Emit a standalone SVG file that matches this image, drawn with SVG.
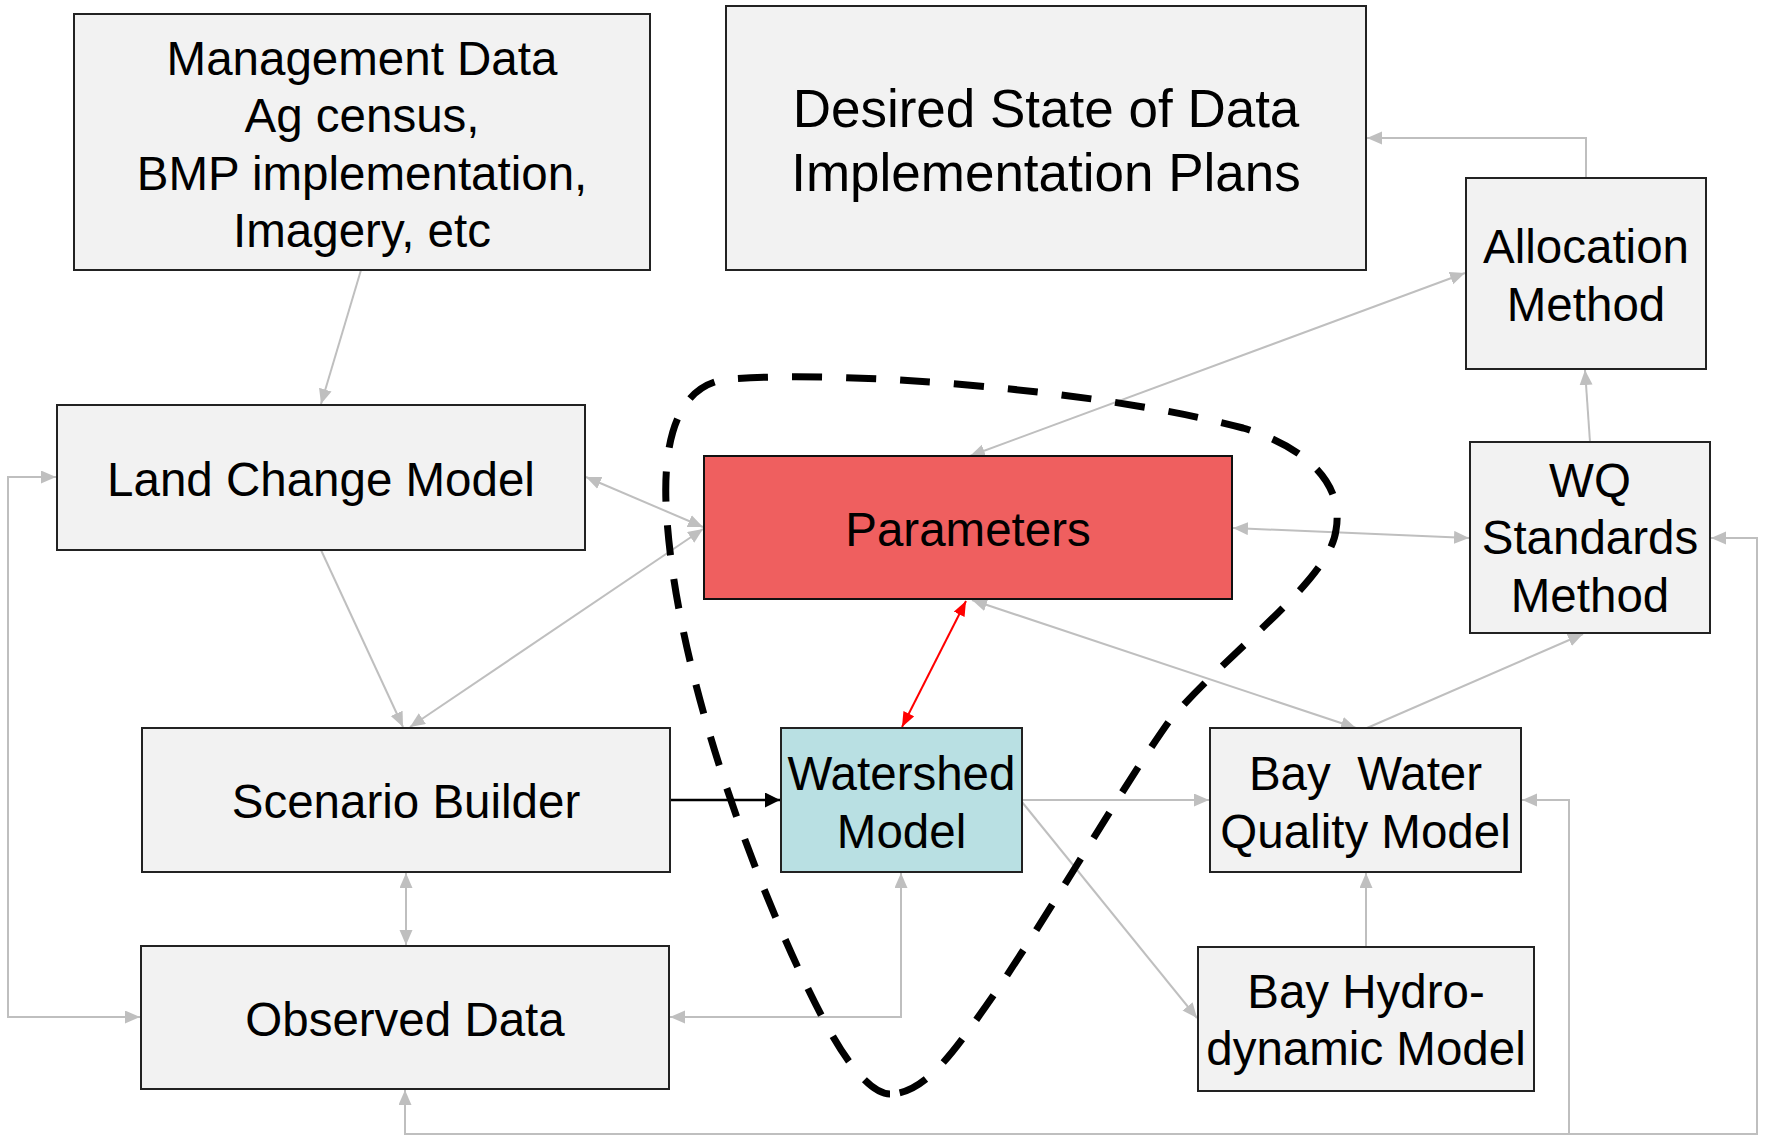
<svg xmlns="http://www.w3.org/2000/svg" width="1765" height="1137" viewBox="0 0 1765 1137">
<style>
.box{fill:#f2f2f2;stroke:#222;stroke-width:2}
.lbl{font-family:"Liberation Sans",Arial,sans-serif;font-size:47.5px;fill:#000;text-anchor:middle}
.big{font-size:53px}
.g{fill:none;stroke:#bfbfbf;stroke-width:2}
.k{fill:none;stroke:#000;stroke-width:2.5}
.r{fill:none;stroke:#ff0000;stroke-width:2}
</style>
<defs>
<marker id="ag" markerUnits="userSpaceOnUse" markerWidth="16" markerHeight="14" refX="15" refY="6.5" orient="auto-start-reverse"><path d="M0,0 L15,6.5 L0,13 z" fill="#bfbfbf"/></marker>
<marker id="ak" markerUnits="userSpaceOnUse" markerWidth="16" markerHeight="16" refX="15" refY="7.5" orient="auto-start-reverse"><path d="M0,0 L15,7.5 L0,15 z" fill="#000"/></marker>
<marker id="ar" markerUnits="userSpaceOnUse" markerWidth="16" markerHeight="14" refX="15" refY="6" orient="auto-start-reverse"><path d="M0,0 L15,6 L0,12 z" fill="#ff0000"/></marker>
</defs>
<rect width="1765" height="1137" fill="#fff"/>

<g id="connectors">
<line class="g" x1="361" y1="270" x2="321" y2="404" marker-end="url(#ag)"/>
<line class="g" x1="586" y1="477" x2="703" y2="527" marker-start="url(#ag)" marker-end="url(#ag)"/>
<line class="g" x1="410" y1="727" x2="703" y2="529" marker-start="url(#ag)" marker-end="url(#ag)"/>
<line class="g" x1="321" y1="550" x2="403" y2="727" marker-end="url(#ag)"/>
<line class="g" x1="970" y1="456" x2="1465" y2="273" marker-start="url(#ag)" marker-end="url(#ag)"/>
<path class="g" d="M1586,178 V138 H1367" marker-end="url(#ag)"/>
<line class="g" x1="1590" y1="442" x2="1585" y2="370" marker-end="url(#ag)"/>
<line class="g" x1="1233" y1="528" x2="1469" y2="538" marker-start="url(#ag)" marker-end="url(#ag)"/>
<line class="g" x1="972" y1="600" x2="1356" y2="728" marker-start="url(#ag)" marker-end="url(#ag)"/>
<line class="g" x1="1367" y1="728" x2="1583" y2="634" marker-end="url(#ag)"/>
<line class="g" x1="406" y1="873" x2="406" y2="945" marker-start="url(#ag)" marker-end="url(#ag)"/>
<line class="g" x1="1022" y1="800" x2="1209" y2="800" marker-end="url(#ag)"/>
<line class="g" x1="1022" y1="802" x2="1197" y2="1018" marker-end="url(#ag)"/>
<line class="g" x1="1366" y1="947" x2="1366" y2="873" marker-end="url(#ag)"/>
<path class="g" d="M901,873 V1017 H670" marker-start="url(#ag)" marker-end="url(#ag)"/>
<path class="g" d="M56,477 H8 V1017 H140" marker-start="url(#ag)" marker-end="url(#ag)"/>
<path class="g" d="M405,1090 V1134 H1757 V538 H1711" marker-start="url(#ag)" marker-end="url(#ag)"/>
<path class="g" d="M1569,1134 V800 H1522" marker-end="url(#ag)"/>
<line class="k" x1="671" y1="800" x2="780" y2="800" marker-end="url(#ak)"/>
<line class="r" x1="966" y1="601" x2="902" y2="727" marker-start="url(#ar)" marker-end="url(#ar)"/>
</g>

<g id="node-management">
<rect class="box" x="74" y="14" width="576" height="256"/>
<text class="lbl" x="362" y="74.5">Management Data</text>
<text class="lbl" x="362" y="132">Ag census,</text>
<text class="lbl" x="362" y="189.5">BMP implementation,</text>
<text class="lbl" x="362" y="247">Imagery, etc</text>
</g>
<g id="node-desired">
<rect class="box" x="726" y="6" width="640" height="264"/>
<text class="lbl big" x="1046" y="126.5">Desired State of Data</text>
<text class="lbl big" x="1046" y="191">Implementation Plans</text>
</g>
<g id="node-allocation">
<rect class="box" x="1466" y="178" width="240" height="191"/>
<text class="lbl" x="1586" y="263">Allocation</text>
<text class="lbl" x="1586" y="320.5">Method</text>
</g>
<g id="node-landchange">
<rect class="box" x="57" y="405" width="528" height="145"/>
<text class="lbl" x="321" y="495.5">Land Change Model</text>
</g>
<g id="node-parameters">
<rect x="704" y="456" width="528" height="143" fill="#ef5f5f" stroke="#111" stroke-width="2"/>
<text class="lbl" x="968" y="546">Parameters</text>
</g>
<g id="node-wqstandards">
<rect class="box" x="1470" y="442" width="240" height="191"/>
<text class="lbl" x="1590" y="496.5">WQ</text>
<text class="lbl" x="1590" y="554">Standards</text>
<text class="lbl" x="1590" y="611.5">Method</text>
</g>
<g id="node-scenario">
<rect class="box" x="142" y="728" width="528" height="144"/>
<text class="lbl" x="406" y="818">Scenario Builder</text>
</g>
<g id="node-watershed">
<rect x="781" y="728" width="241" height="144" fill="#b9e0e3" stroke="#222" stroke-width="2"/>
<text class="lbl" x="901.5" y="790">Watershed</text>
<text class="lbl" x="901.5" y="847.5">Model</text>
</g>
<g id="node-baywq">
<rect class="box" x="1210" y="728" width="311" height="144"/>
<text class="lbl" x="1365.5" y="790" xml:space="preserve">Bay  Water</text>
<text class="lbl" x="1365.5" y="847.5">Quality Model</text>
</g>
<g id="node-observed">
<rect class="box" x="141" y="946" width="528" height="143"/>
<text class="lbl" x="405" y="1035.5">Observed Data</text>
</g>
<g id="node-bayhydro">
<rect class="box" x="1198" y="947" width="336" height="144"/>
<text class="lbl" x="1366" y="1007.5">Bay Hydro-</text>
<text class="lbl" x="1366" y="1065">dynamic Model</text>
</g>

<g id="boundary">
<path d="M890,1094 C870,1094 845,1060 826,1024 C775,930 680,700 667,520 C663,470 665,385 729,379 C850,370 1100,390 1243,428 C1300,445 1345,480 1336,530 C1330,580 1230,650 1170,720 C1120,790 1040,930 986,1006 C955,1050 925,1094 890,1094" fill="none" stroke="#000" stroke-width="7" stroke-dasharray="30 24"/>
</g>
</svg>
